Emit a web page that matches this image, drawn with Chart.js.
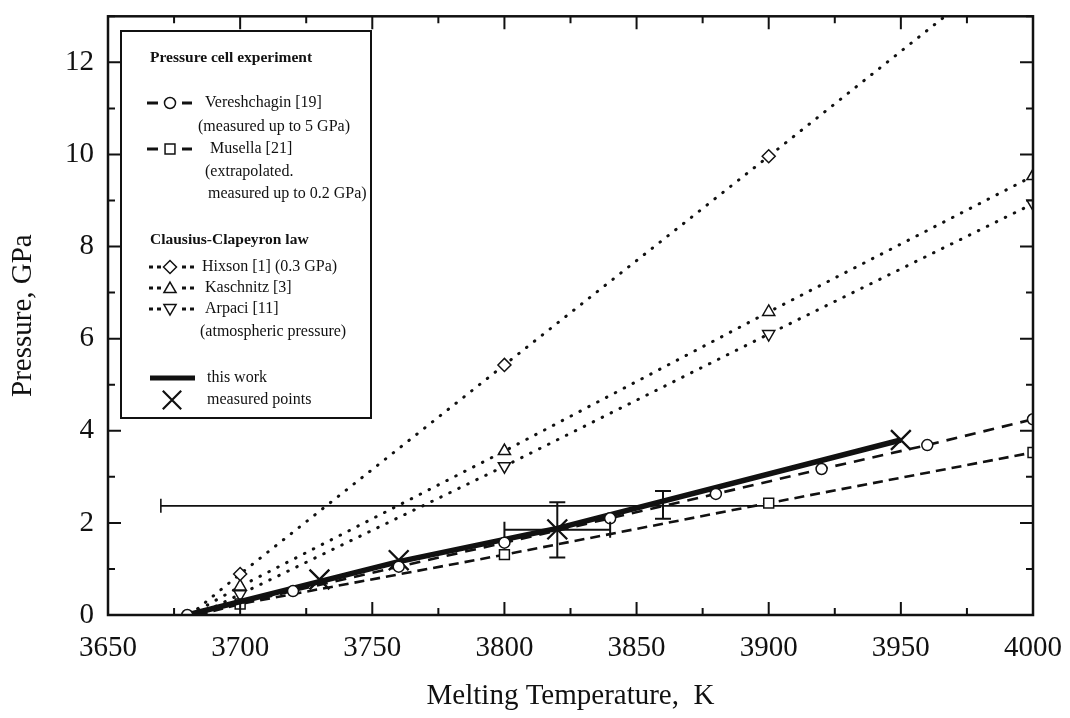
<!DOCTYPE html>
<html>
<head>
<meta charset="utf-8">
<title>Melting curve</title>
<script src="https://cdn.jsdelivr.net/npm/chart.js@4.4.0/dist/chart.umd.min.js"></script>
<style>
  html, body { margin: 0; padding: 0; background: #fff; }
  #wrap { width: 1070px; height: 718px; }
</style>
</head>
<body>
<div id="wrap"><canvas id="meltChart" width="1070" height="718"></canvas></div>
<script>
// melting temperature (K) / pressure (GPa)
const vereshK = [3680, 3720, 3760, 3800, 3840, 3880, 3920, 3960, 4000];
const vereshP = [0, 0.52, 1.05, 1.57, 2.10, 2.63, 3.17, 3.69, 4.25];

const musellaK = [3684, 3700, 3800, 3900, 4000];
const musellaP = [0, 0.24, 1.31, 2.43, 3.53];

const hixsonK = [3681, 3700, 3800, 3900, 3970];
const hixsonP = [0, 0.89, 5.43, 9.96, 13.15];

const kaschK = [3681, 3700, 3800, 3900, 4000];
const kaschP = [0, 0.62, 3.56, 6.58, 9.53];

const arpaciK = [3684, 3700, 3800, 3900, 4000];
const arpaciP = [0, 0.45, 3.23, 6.10, 8.93];

const workK = [3680, 3760, 3820, 3950];
const workP = [0, 1.16, 1.88, 3.80];

const measK = [3730, 3760, 3820, 3950];
const measP = [0.77, 1.19, 1.86, 3.80];

// error bars
const errK = [3820, 3860];
const errP = [1.85, 2.39];
const errDK = [20, 0];
const errDP = [0.6, 0.3];

const bandK = [3670, 4000];
const bandP = 2.37;

const xTicks = [3650, 3700, 3750, 3800, 3850, 3900, 3950, 4000];
const yTicks = [0, 2, 4, 6, 8, 10, 12];

const INK = '#111';
const SERIF = '"Liberation Serif", "Times New Roman", serif';

const toXY = (ks, ps) => ks.map((k, i) => ({ x: k, y: ps[i] }));

// frame with inward ticks on all four sides
const frameTicks = {
    id: 'frameTicks',
    afterDatasetsDraw(chart) {
        const { ctx, chartArea: a, scales: { x, y } } = chart;
        ctx.save();
        ctx.strokeStyle = INK;
        ctx.lineWidth = 2;
        ctx.beginPath();
        for (let k = x.min; k <= x.max; k += 25) {
            const px = x.getPixelForValue(k);
            const len = (k % 50 === 0) ? 13 : 7;
            ctx.moveTo(px, a.bottom); ctx.lineTo(px, a.bottom - len);
            ctx.moveTo(px, a.top); ctx.lineTo(px, a.top + len);
        }
        for (let p = y.min; p <= y.max; p += 1) {
            const py = y.getPixelForValue(p);
            const len = (p % 2 === 0) ? 13 : 7;
            ctx.moveTo(a.left, py); ctx.lineTo(a.left + len, py);
            ctx.moveTo(a.right, py); ctx.lineTo(a.right - len, py);
        }
        ctx.stroke();
        ctx.lineWidth = 2.5;
        ctx.strokeRect(a.left, a.top, a.right - a.left, a.bottom - a.top);
        ctx.restore();
    }
};

// error bars with caps
const errorBars = {
    id: 'errorBars',
    afterDatasetsDraw(chart) {
        const { ctx, scales: { x, y } } = chart;
        ctx.save();
        ctx.strokeStyle = INK;
        ctx.lineWidth = 2;
        ctx.beginPath();
        errK.forEach((k, i) => {
            const cx = x.getPixelForValue(k);
            const cy = y.getPixelForValue(errP[i]);
            if (errDP[i]) {
                const y1 = y.getPixelForValue(errP[i] - errDP[i]);
                const y2 = y.getPixelForValue(errP[i] + errDP[i]);
                ctx.moveTo(cx, y1); ctx.lineTo(cx, y2);
                ctx.moveTo(cx - 8, y1); ctx.lineTo(cx + 8, y1);
                ctx.moveTo(cx - 8, y2); ctx.lineTo(cx + 8, y2);
            }
            if (errDK[i]) {
                const x1 = x.getPixelForValue(k - errDK[i]);
                const x2 = x.getPixelForValue(k + errDK[i]);
                ctx.moveTo(x1, cy); ctx.lineTo(x2, cy);
                ctx.moveTo(x1, cy - 8); ctx.lineTo(x1, cy + 8);
                ctx.moveTo(x2, cy - 8); ctx.lineTo(x2, cy + 8);
            }
        });
        ctx.stroke();
        ctx.restore();
    }
};

// legend panel in the upper left
const legendPanel = {
    id: 'legendPanel',
    afterDraw(chart) {
        const ctx = chart.ctx;
        const helpers = Chart.helpers;
        ctx.save();
        ctx.fillStyle = '#fff';
        ctx.fillRect(121, 31, 250, 387);
        ctx.strokeStyle = INK;
        ctx.lineWidth = 2;
        ctx.strokeRect(121, 31, 250, 387);

        ctx.fillStyle = INK;
        ctx.textBaseline = 'middle';
        ctx.textAlign = 'left';
        ctx.font = 'bold 15.5px ' + SERIF;
        ctx.fillText('Pressure cell experiment', 150, 58);
        ctx.fillText('Clausius-Clapeyron law', 150, 240);

        ctx.font = '16px ' + SERIF;
        const rows = [
            ['Vereshchagin [19]', 205, 103],
            ['(measured up to 5 GPa)', 198, 127],
            ['Musella [21]', 210, 149],
            ['(extrapolated.', 205, 172],
            ['measured up to 0.2 GPa)', 208, 194],
            ['Hixson [1] (0.3 GPa)', 202, 267],
            ['Kaschnitz [3]', 205, 288],
            ['Arpaci [11]', 205, 309],
            ['(atmospheric pressure)', 200, 332],
            ['this work', 207, 378],
            ['measured points', 207, 400]
        ];
        rows.forEach(r => ctx.fillText(r[0], r[1], r[2]));

        // line samples
        const dashSample = (yy) => {
            ctx.lineWidth = 2.8;
            ctx.beginPath();
            ctx.moveTo(147, yy); ctx.lineTo(158, yy);
            ctx.moveTo(182, yy); ctx.lineTo(192, yy);
            ctx.stroke();
        };
        const dotSample = (yy) => {
            ctx.lineWidth = 3;
            ctx.beginPath();
            [149, 157, 182, 190].forEach(px => { ctx.moveTo(px, yy); ctx.lineTo(px + 4, yy); });
            ctx.stroke();
        };
        const mark = (style, radius, rotation, px, py, bw) => {
            ctx.fillStyle = '#fff';
            ctx.lineWidth = bw || 1.5;
            helpers.drawPoint(ctx, { pointStyle: style, radius: radius, rotation: rotation, borderWidth: bw || 1.5 }, px, py);
        };
        dashSample(103); mark('circle', 5.5, 0, 170, 103);
        dashSample(149); mark('rect', 7, 0, 170, 149);
        dotSample(267); mark('rectRot', 6.5, 0, 170, 267);
        dotSample(288); mark('triangle', 7, 0, 170, 289);
        dotSample(309); mark('triangle', 7, 180, 170, 308);

        ctx.lineWidth = 5;
        ctx.beginPath();
        ctx.moveTo(150, 378); ctx.lineTo(195, 378);
        ctx.stroke();
        mark('crossRot', 13, 0, 172, 400, 2.2);
        ctx.restore();
    }
};

const dotted = { borderDash: [0.5, 9.5], borderCapStyle: 'round', borderWidth: 3 };

const datasets = [
    {
        label: 'Vereshchagin [19]',
        data: toXY(vereshK, vereshP),
        borderColor: INK, borderWidth: 2.6, borderDash: [11, 8],
        pointStyle: 'circle', pointRadius: 5.5, pointBorderWidth: 1.5,
        pointBackgroundColor: '#fff', pointBorderColor: INK, order: 0
    },
    {
        label: 'Musella [21]',
        data: toXY(musellaK, musellaP),
        borderColor: INK, borderWidth: 2.6, borderDash: [10, 6],
        pointStyle: 'rect', pointRadius: musellaK.map((k, i) => i === 0 ? 0 : 7), pointBorderWidth: 1.5,
        pointBackgroundColor: '#fff', pointBorderColor: INK, order: 3
    },
    {
        label: 'Hixson [1] (0.3 GPa)',
        data: toXY(hixsonK, hixsonP),
        borderColor: INK, ...dotted,
        pointStyle: 'rectRot', pointRadius: hixsonK.map((k, i) => (i === 0 || i === hixsonK.length - 1) ? 0 : 6.5),
        pointBorderWidth: 1.5, pointBackgroundColor: '#fff', pointBorderColor: INK, order: 4
    },
    {
        label: 'Kaschnitz [3]',
        data: toXY(kaschK, kaschP),
        borderColor: INK, ...dotted,
        pointStyle: 'triangle', pointRadius: kaschK.map((k, i) => i === 0 ? 0 : 7),
        pointBorderWidth: 1.5, pointBackgroundColor: '#fff', pointBorderColor: INK, order: 5
    },
    {
        label: 'Arpaci [11]',
        data: toXY(arpaciK, arpaciP),
        borderColor: INK, ...dotted,
        pointStyle: 'triangle', pointRotation: 180, pointRadius: arpaciK.map((k, i) => i === 0 ? 0 : 7),
        pointBorderWidth: 1.5, pointBackgroundColor: '#fff', pointBorderColor: INK, order: 6
    },
    {
        label: 'this work',
        data: toXY(workK, workP),
        borderColor: INK, borderWidth: 5.5, pointRadius: 0, order: 2
    },
    {
        label: 'measured points',
        data: toXY(measK, measP),
        showLine: false,
        pointStyle: 'crossRot', pointRadius: 14, pointBorderWidth: 2.3,
        pointBorderColor: INK, order: 1
    },
    {
        label: 'band',
        data: toXY(bandK, bandK.map(() => bandP)),
        borderColor: INK, borderWidth: 1.6,
        pointStyle: 'line', pointRotation: 90, pointRadius: [7, 0],
        pointBorderWidth: 1.6, pointBorderColor: INK, order: 7
    }
];

const ctx = document.getElementById('meltChart').getContext('2d');
new Chart(ctx, {
    type: 'line',
    data: { datasets: datasets },
    options: {
        responsive: false,
        animation: false,
        devicePixelRatio: 1,
        layout: { padding: { top: 14, right: 37, left: 0, bottom: 0 } },
        elements: { line: { tension: 0 } },
        scales: {
            x: {
                type: 'linear', min: 3650, max: 4000,
                afterBuildTicks: s => { s.ticks = xTicks.map(v => ({ value: v })); },
                afterFit: s => { s.height = 103; s.paddingLeft = 0; s.paddingRight = 0; },
                grid: { display: false, drawTicks: false },
                border: { display: false },
                ticks: { color: INK, font: { family: SERIF, size: 29 }, padding: 16, maxRotation: 0, autoSkip: false, callback: v => String(v) },
                title: { display: true, text: 'Melting Temperature,  K', color: INK, font: { family: SERIF, size: 29 }, padding: { top: 0, bottom: 4 } }
            },
            y: {
                type: 'linear', min: 0, max: 13,
                afterBuildTicks: s => { s.ticks = yTicks.map(v => ({ value: v })); },
                afterFit: s => { s.width = 108; s.paddingTop = 0; s.paddingBottom = 0; },
                grid: { display: false, drawTicks: false },
                border: { display: false },
                ticks: { color: INK, font: { family: SERIF, size: 29 }, padding: 14, callback: v => String(v) },
                title: { display: true, text: 'Pressure, GPa', color: INK, font: { family: SERIF, size: 29 }, padding: { top: 6, bottom: 0 } }
            }
        },
        plugins: {
            legend: { display: false },
            tooltip: { enabled: false }
        }
    },
    plugins: [frameTicks, errorBars, legendPanel]
});
</script>
</body>
</html>
